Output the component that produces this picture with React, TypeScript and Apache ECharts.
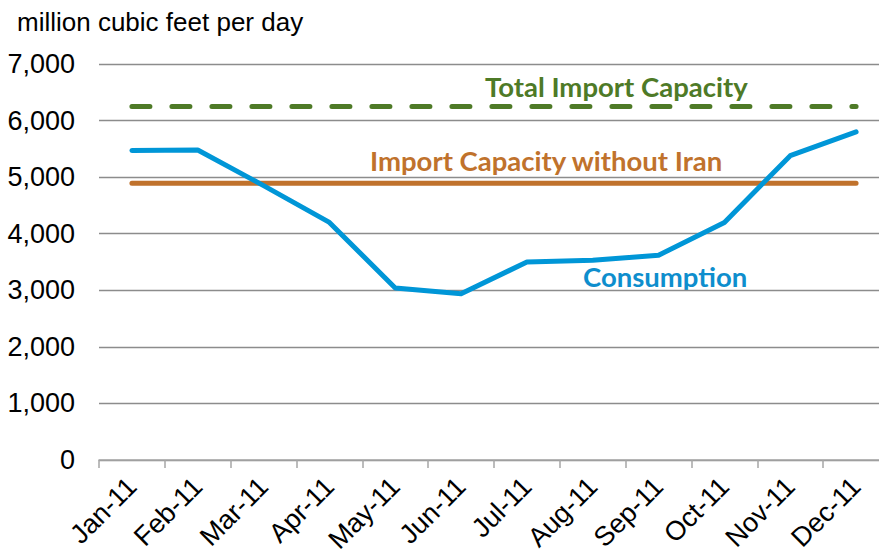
import React, { useEffect, useRef } from "react";
import * as echarts from "echarts";

const months = ["Jan-11", "Feb-11", "Mar-11", "Apr-11", "May-11", "Jun-11", "Jul-11", "Aug-11", "Sep-11", "Oct-11", "Nov-11", "Dec-11"];
const consumption = [5470, 5480, 4850, 4200, 3040, 2940, 3500, 3530, 3620, 4200, 5380, 5800];
const totalImportCapacity = [6250, 6250, 6250, 6250, 6250, 6250, 6250, 6250, 6250, 6250, 6250, 6250];
const importCapacityWithoutIran = [4890, 4890, 4890, 4890, 4890, 4890, 4890, 4890, 4890, 4890, 4890, 4890];
const yMin = 0;
const yMax = 7000;
const yStep = 1000;

const GREEN = "#4E7A27";
const ORANGE = "#C0722C";
const BLUE = "#0096D7";
const BLUE_TEXT = "#0E8ECD";

export default function App() {
  const ref = useRef<HTMLDivElement>(null);
  useEffect(() => {
    if (!ref.current) return;
    const chart = echarts.init(ref.current, null, { renderer: "svg" });
    const axisFont = "'Liberation Sans', Arial, sans-serif";
    const annFont = "Lato, 'Open Sans', sans-serif";
    chart.setOption({
      animation: false,
      backgroundColor: "#ffffff",
      title: {
        text: "million cubic feet per day",
        left: 12,
        top: 4,
        textStyle: { fontFamily: axisFont, fontSize: 26, fontWeight: "normal", color: "#000" },
      },
      grid: { left: 99, top: 64, width: 790, height: 396, outerBoundsMode: "none", containLabel: false },
      xAxis: {
        type: "category",
        data: months,
        boundaryGap: true,
        axisLine: { show: true, lineStyle: { color: "#a6a6a6", width: 1.5 } },
        axisTick: { show: true, length: 8, lineStyle: { color: "#a6a6a6", width: 1.5 } },
        axisLabel: {
          rotate: 45,
          margin: 22,
          interval: 0,
          fontFamily: axisFont,
          fontSize: 27,
          color: "#000",
        },
        splitLine: { show: false },
      },
      yAxis: {
        type: "value",
        min: yMin,
        max: yMax,
        interval: yStep,
        axisLine: { show: false },
        axisTick: { show: false },
        axisLabel: {
          margin: 24,
          fontFamily: axisFont,
          fontSize: 27,
          color: "#000",
          formatter: (v: number) => v.toLocaleString("en-US"),
        },
        splitLine: { show: true, lineStyle: { color: "#8c8c8c", width: 1.3 } },
      },
      series: [
        {
          name: "Total Import Capacity",
          type: "line",
          data: totalImportCapacity,
          symbol: "none",
          lineStyle: { color: GREEN, width: 5, type: [18, 22], cap: "round" },
          z: 3,
        },
        {
          name: "Import Capacity without Iran",
          type: "line",
          data: importCapacityWithoutIran,
          symbol: "none",
          lineStyle: { color: ORANGE, width: 5, cap: "round" },
          z: 3,
        },
        {
          name: "Consumption",
          type: "line",
          data: consumption,
          symbol: "none",
          lineStyle: { color: BLUE, width: 5, cap: "round", join: "round" },
          z: 4,
        },
      ],
      graphic: [
        {
          type: "text",
          left: 485,
          top: 72,
          style: { text: "Total Import Capacity", fill: GREEN, font: `bold 27.5px ${annFont}` },
        },
        {
          type: "text",
          left: 370,
          top: 146,
          style: { text: "Import Capacity without Iran", fill: ORANGE, font: `bold 27.5px ${annFont}` },
        },
        {
          type: "text",
          left: 583,
          top: 262,
          style: { text: "Consumption", fill: BLUE_TEXT, font: `bold 27.5px ${annFont}` },
        },
      ],
    });
    return () => chart.dispose();
  }, []);
  return <div ref={ref} style={{ position: "absolute", left: 0, top: 0, width: 879, height: 554 }} />;
}
